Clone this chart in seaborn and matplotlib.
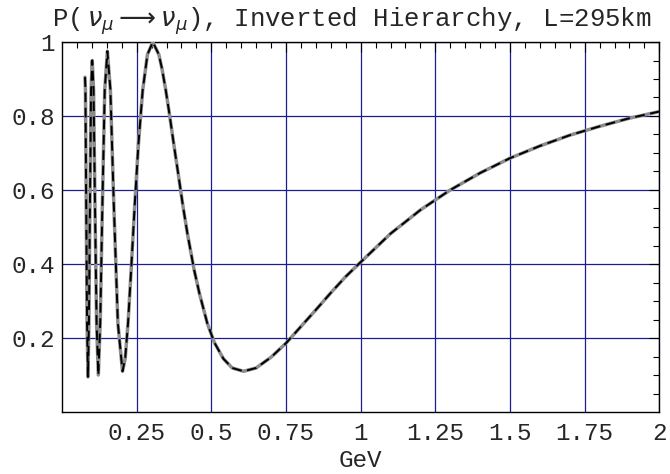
import matplotlib
matplotlib.use("Agg")
import matplotlib.pyplot as plt
import seaborn as sns
import pandas as pd
import numpy as np

# Values
energy_gev = [0.0770, 0.0785, 0.0811, 0.0839, 0.0869, 0.0901, 0.0935, 0.0973,
              0.1013, 0.1057, 0.1105, 0.1158, 0.1216, 0.1280, 0.1351, 0.1431,
              0.1520, 0.1621, 0.1737, 0.1871, 0.2026, 0.2115, 0.2211, 0.2316,
              0.2432, 0.2560, 0.2702, 0.2861, 0.3040, 0.3243, 0.3350, 0.3474,
              0.3600, 0.3741, 0.3900, 0.4053, 0.4200, 0.4422, 0.4600, 0.4864,
              0.5100, 0.5404, 0.5700, 0.6080, 0.65, 0.70, 0.75,
              0.80, 0.85, 0.90, 0.95, 1.00, 1.10, 1.20, 1.30, 1.40, 1.50,
              1.60, 1.70, 1.80, 1.90, 2.00]
survival_prob = [0.905, 0.870, 0.555, 0.240, 0.095, 0.240, 0.555, 0.870,
                 0.950, 0.870, 0.555, 0.240, 0.100, 0.240, 0.555, 0.870,
                 0.975, 0.870, 0.555, 0.240, 0.110, 0.144, 0.240, 0.385,
                 0.555, 0.725, 0.870, 0.966, 1.000, 0.966, 0.927, 0.870,
                 0.804, 0.725, 0.639, 0.555, 0.482, 0.385, 0.321, 0.240,
                 0.188, 0.144, 0.119, 0.110, 0.119, 0.148, 0.186,
                 0.231, 0.276, 0.322, 0.366, 0.405, 0.482, 0.546, 0.600, 0.646,
                 0.686, 0.719, 0.748, 0.772, 0.794, 0.812]
x_ticks = [0.25, 0.5, 0.75, 1.0, 1.25, 1.5, 1.75, 2.0]
x_tick_labels = ["0.25", "0.5", "0.75", "1", "1.25", "1.5", "1.75", "2"]
y_ticks = [0.2, 0.4, 0.6, 0.8, 1.0]
y_tick_labels = ["0.2", "0.4", "0.6", "0.8", "1"]
title_text = r"P($\,\nu_\mu\longrightarrow\nu_\mu$), Inverted Hierarchy, L=295km"
x_label = "GeV"

sns.set_style("white")
plt.rcParams['font.family'] = ['Liberation Mono', 'DejaVu Sans']
plt.rcParams['mathtext.fontset'] = 'dejavusans'
plt.rcParams['lines.scale_dashes'] = False

df = pd.DataFrame({"E": energy_gev, "P": survival_prob})

fig = plt.figure(figsize=(6.7, 4.74), dpi=100)
ax = fig.add_axes([62/670, 62/474, 597.3/670, 370/474])

sns.lineplot(data=df, x="E", y="P", ax=ax, color="#8c8c8c", linewidth=2.5,
             estimator=None, sort=False, zorder=3)
sns.lineplot(data=df, x="E", y="P", ax=ax, color="black", linewidth=1.4,
             estimator=None, sort=False, zorder=4)
ax.lines[-1].set_dashes((7, 4))

ax.set_xlim(0, 2)
ax.set_ylim(0, 1)
ax.set_xticks(x_ticks)
ax.set_xticklabels(x_tick_labels)
ax.set_yticks(y_ticks)
ax.set_yticklabels(y_tick_labels)
ax.set_xticks(np.arange(0.05, 2.0, 0.05), minor=True)
ax.set_yticks(np.arange(0.05, 1.0, 0.05), minor=True)
ax.tick_params(which='both', direction='in', top=True, right=True,
               color='black', width=0.8)
ax.tick_params(which='major', length=7, labelsize=17.5)
ax.tick_params(axis='x', which='major', pad=7)
ax.tick_params(axis='y', which='major', pad=5)
ax.tick_params(which='minor', length=4)
ax.grid(True, which='major', color='#1c1c90', linewidth=0.9)
for s in ax.spines.values():
    s.set_color('black')
    s.set_linewidth(1.0)

ax.set_xlabel(x_label, fontsize=17.5, labelpad=3)
ax.set_ylabel("")
fig.text(352/670, 1 - 21/474, title_text, ha='center', va='center', fontsize=18.5)

fig.savefig("out.png", dpi=100)
